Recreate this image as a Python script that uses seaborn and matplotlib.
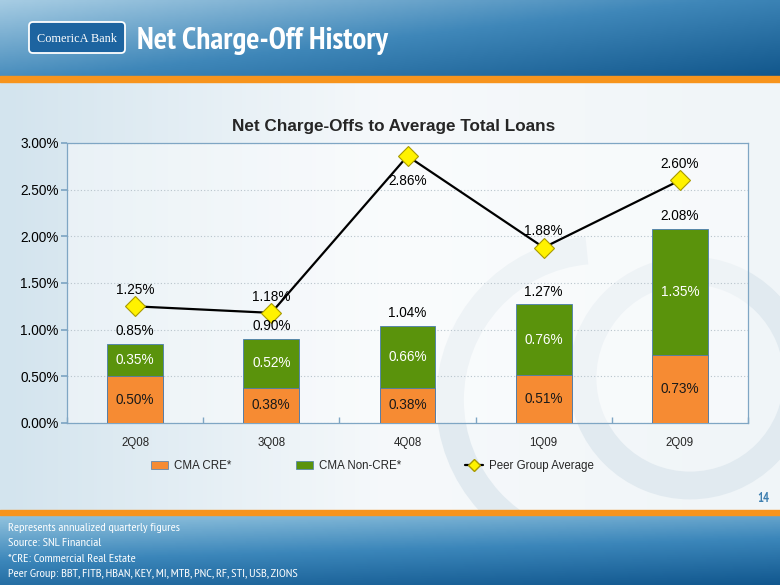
import numpy as np
import matplotlib
matplotlib.use("Agg")
import matplotlib.pyplot as plt
from matplotlib import font_manager
from matplotlib.colors import LinearSegmentedColormap
from matplotlib.patches import FancyBboxPatch, Arc, Patch, Rectangle
from matplotlib.lines import Line2D
import seaborn as sns

# data
quarters = ["2Q08", "3Q08", "4Q08", "1Q09", "2Q09"]
cma_cre = [0.50, 0.38, 0.38, 0.51, 0.73]
cma_non_cre = [0.35, 0.52, 0.66, 0.76, 1.35]
peer_avg = [1.25, 1.18, 2.86, 1.88, 2.60]
y_ticks = [0.0, 0.5, 1.0, 1.5, 2.0, 2.5, 3.0]

footer_lines = [
    "Represents annualized quarterly figures",
    "Source: SNL Financial",
    "*CRE: Commercial Real Estate",
    "Peer Group: BBT, FITB, HBAN, KEY, MI, MTB, PNC, RF, STI, USB, ZIONS",
]

ORANGE = "#F68B33"
GREEN = "#5A930C"
YELLOW = "#FFF200"
EDGE = "#4a7db0"

sns.set_theme(style="white")
plt.rcParams["font.family"] = ["Liberation Sans", "DejaVu Sans"]


def has_font(name):
    try:
        font_manager.findfont(name, fallback_to_default=False)
        return True
    except ValueError:
        return False


# slide text uses a condensed face (Arial Narrow look-alike)
narrow = next((f for f in ["PT Sans Narrow", "Roboto Condensed", "Archivo Narrow"]
               if has_font(f)), "Liberation Sans")
narrow_fam = [narrow, "Liberation Sans"]

fig = plt.figure(figsize=(7.8, 5.85), dpi=100)


def fit_width(txt, px):
    # shrink/grow the font so the string spans px pixels like on the slide
    r = fig.canvas.get_renderer()
    w = txt.get_window_extent(renderer=r).width
    txt.set_fontsize(txt.get_fontsize() * px / w)


# slide background
bg = fig.add_axes([0, 0, 1, 1], zorder=0)
bg.set_xlim(0, 780)
bg.set_ylim(585, 0)
bg.axis("off")
gx = np.linspace(0, 1, 200)
body = np.outer(np.ones(50), gx)
bg.imshow(body, extent=[0, 780, 510, 80], aspect="auto",
          cmap=LinearSegmentedColormap.from_list("b", ["#d3e4ee", "#f6f9fb", "#f0f5f8"]))

# faint logo watermark, kept inside the slide body
clip = Rectangle((0, 82), 780, 428, transform=bg.transData)
for centre, size, a1, a2 in [((690, 378), 215, 0, 360), ((600, 400), 300, 95, 265)]:
    arc = Arc(centre, size, size, theta1=a1, theta2=a2, lw=20, color="#e1eaf0")
    bg.add_patch(arc)
    arc.set_clip_path(clip)

head = np.outer(np.linspace(0, 1, 40), np.ones(200)) * 0.45 + np.outer(np.ones(40), gx) * 0.55
bg.imshow(head, extent=[0, 780, 77, 0], aspect="auto",
          cmap=LinearSegmentedColormap.from_list("h", ["#a6cce3", "#3f87b9", "#12578c"]))
foot = np.outer(np.linspace(0, 1, 40), np.ones(200)) * 0.75 + np.outer(np.ones(40), gx) * 0.25
bg.imshow(foot, extent=[0, 780, 585, 515], aspect="auto",
          cmap=LinearSegmentedColormap.from_list("f", ["#92c3de", "#3b86ba", "#12588f"]))
bg.fill_between([0, 780], 76, 82, color="#F7941D")
bg.fill_between([0, 780], 510, 515, color="#F7941D")

# logo box
bg.add_patch(FancyBboxPatch((29, 22), 96, 31, boxstyle="round,pad=0,rounding_size=4",
                            fc="#1d64a0", ec="white", lw=1.3))
bg.text(77, 38.5, "ComericA Bank", color="white", fontsize=8.8, family="Liberation Serif",
        ha="center", va="center")
title = bg.text(137, 41, "Net Charge-Off History", color="white", fontsize=22,
                fontweight="bold", family=narrow_fam, ha="left", va="center")
fit_width(title, 251)
bg.text(769, 499, "14", color="#3e7fb0", fontsize=9, fontweight="bold",
        family=narrow_fam, ha="right", va="center")
foot_txt = []
for i, line in enumerate(footer_lines):
    foot_txt.append(bg.text(8, 528 + i * 15.3, line, color="white", fontsize=9,
                            family=narrow_fam, ha="left", va="center"))
fit_width(foot_txt[-1], 289)
for t in foot_txt[:-1]:
    t.set_fontsize(foot_txt[-1].get_fontsize())

# chart
ax = fig.add_axes([67 / 780, 1 - 423 / 585, 681 / 780, 280 / 585], zorder=1)
ax.set_facecolor((1, 1, 1, 0.45))

totals = [c + n for c, n in zip(cma_cre, cma_non_cre)]
sns.barplot(x=quarters, y=totals, color=GREEN, saturation=1, width=0.41,
            edgecolor=EDGE, linewidth=0.6, ax=ax, zorder=2)
sns.barplot(x=quarters, y=cma_cre, color=ORANGE, saturation=1, width=0.41,
            edgecolor=EDGE, linewidth=0.6, ax=ax, zorder=3)
pos = np.arange(len(quarters))
sns.lineplot(x=pos, y=peer_avg, color="black", lw=1.6, marker="D", markersize=10,
             markerfacecolor=YELLOW, markeredgecolor="#a89a00", markeredgewidth=0.8,
             ax=ax, zorder=4)

ax.set_xlim(-0.5, 4.5)
ax.set_ylim(0, 3.0)
ax.set_yticks(y_ticks)
ax.set_yticklabels([f"{v:.2f}%" for v in y_ticks])
ax.yaxis.grid(True, ls=(0, (1, 2)), color="#b8c4cc", lw=0.8)
ax.set_axisbelow(True)
for s in ax.spines.values():
    s.set_color("#7fa6c4")
    s.set_linewidth(0.9)
ax.tick_params(axis="y", labelsize=9.8, colors="black", length=4, direction="out",
               color="#7fa6c4", left=True, pad=2)
ax.set_xticks(pos)
ax.set_xticklabels(quarters)
ax.set_xticks(np.arange(-0.5, 5, 1), minor=True)
ax.tick_params(axis="x", which="major", labelsize=8.3, length=0, pad=10)
ax.tick_params(axis="x", which="minor", length=4, direction="in", color="#7fa6c4", bottom=True)
ax.set_xlabel("")
ax.set_ylabel("")
ax.set_title("Net Charge-Offs to Average Total Loans", fontsize=12.3, fontweight="bold",
             pad=9, x=(394 - 67) / 681)

for i in range(len(quarters)):
    ax.text(i, cma_cre[i] / 2, f"{cma_cre[i]:.2f}%", ha="center", va="center",
            fontsize=9.8, color="#1a1a1a", zorder=5)
    ax.text(i, cma_cre[i] + cma_non_cre[i] / 2, f"{cma_non_cre[i]:.2f}%", ha="center",
            va="center", fontsize=9.8, color="white", zorder=5)
    ax.text(i, totals[i] + 0.06, f"{totals[i]:.2f}%", ha="center", va="bottom",
            fontsize=9.8, color="black", zorder=5)
    if i == 2:
        ax.text(i, peer_avg[i] - 0.19, f"{peer_avg[i]:.2f}%", ha="center", va="top",
                fontsize=9.8, color="black", zorder=5)
    else:
        ax.text(i, peer_avg[i] + 0.1, f"{peer_avg[i]:.2f}%", ha="center", va="bottom",
                fontsize=9.8, color="black", zorder=5)

handles = [
    Patch(facecolor=ORANGE, edgecolor=EDGE, lw=0.5),
    Patch(facecolor=GREEN, edgecolor=EDGE, lw=0.5),
    Line2D([], [], color="black", lw=1.6, marker="D", markersize=6,
           markerfacecolor=YELLOW, markeredgecolor="#a89a00"),
]
fig.legend(handles, ["CMA CRE*", "CMA Non-CRE*", "Peer Group Average"],
           loc="center", bbox_to_anchor=(372 / 780, 1 - 466 / 585), ncol=3,
           frameon=False, fontsize=8.3, columnspacing=5.6, handlelength=1.55,
           handletextpad=0.45)

fig.savefig("out.png", dpi=100)
